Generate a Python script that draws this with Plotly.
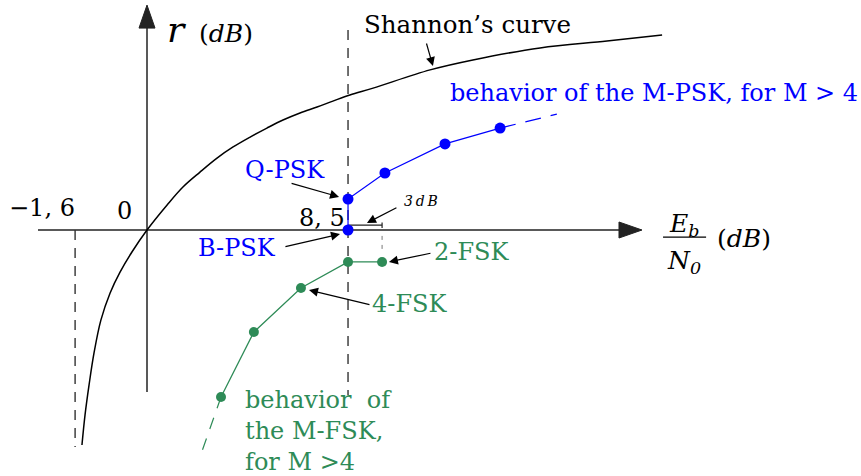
import plotly.graph_objects as go

# ---- data (diagram units: Eb/N0 in dB along x, r in dB along y) ----
shannon_x = [-2.75, -2.62, -2.45, -2.24, -1.95, -1.56, -1.14, -0.63, 0.0, 0.85, 1.52,
             2.24, 2.96, 3.64, 4.36, 5.07, 5.75, 6.47, 7.19, 7.86, 8.58, 9.56,
             11.97, 13.78, 16.62, 19.45, 21.78]
shannon_y = [-9.09, -7.82, -6.55, -5.20, -3.81, -2.66, -1.78, -0.92, 0.0, 1.06, 1.82,
             2.45, 3.04, 3.51, 3.93, 4.31, 4.65, 4.95, 5.20, 5.45, 5.71, 6.00,
             6.77, 7.19, 7.70, 7.99, 8.25]

psk_x = [8.5, 8.5, 10.06, 12.60, 14.93]          # B-PSK, Q-PSK, 8-PSK, ...
psk_y = [0.0, 1.31, 2.41, 3.64, 4.31]
psk_trend_x = [14.93, 17.33]
psk_trend_y = [4.31, 4.90]

fsk_x = [9.94, 8.5, 6.51, 4.52, 3.13]            # 2-FSK, ..., 4-FSK, ...
fsk_y = [-1.35, -1.35, -2.45, -4.31, -7.06]
fsk_trend_x = [3.13, 2.24]
fsk_trend_y = [-7.06, -9.60]

limit_x = -3.04          # position of the Shannon limit line
bpsk_x = 8.5             # B-PSK reference Eb/N0
tick_texts = ["\u22121, 6", "0", "8, 5"]

# ---- geometry of the canvas ----
W, H = 861, 476
S = 23.65                # pixels per diagram unit
X0, Y0 = 147, 230        # origin position on the canvas
x_range = [-X0 / S, (W - X0) / S]
y_range = [-(H - Y0) / S, Y0 / S]

BLUE = "#0000FF"
GREEN = "#2E8B57"
AXIS = "#222222"
DASHC = "#333333"
FONT = "DejaVu Serif"

fig = go.Figure()

def seg(x, y, color, width, dash="solid"):
    fig.add_trace(go.Scatter(x=x, y=y, mode="lines", hoverinfo="skip",
                             line=dict(color=color, width=width, dash=dash)))

def head(tip_x, tip_y, direction, length=23, half=8):
    L, h = length / S, half / S
    if direction == "right":
        xs = [tip_x, tip_x - L, tip_x - L, tip_x]
        ys = [tip_y, tip_y + h, tip_y - h, tip_y]
    else:
        xs = [tip_x, tip_x - h, tip_x + h, tip_x]
        ys = [tip_y, tip_y - L, tip_y - L, tip_y]
    fig.add_trace(go.Scatter(x=xs, y=ys, mode="lines", fill="toself",
                             fillcolor=AXIS, line=dict(color=AXIS, width=1),
                             hoverinfo="skip"))

# axes with arrow heads
x_axis_end, y_axis_end = 20.93, 9.51
seg([-4.61, x_axis_end - 22 / S], [0, 0], AXIS, 1.5)
head(x_axis_end, 0, "right")
seg([0, 0], [-6.85, y_axis_end - 22 / S], AXIS, 1.5)
head(0, y_axis_end, "up")

# Shannon limit and B-PSK reference lines
seg([limit_x, limit_x], [0, -9.18], DASHC, 1.4, "10px,8px")
seg([bpsk_x, bpsk_x], [8.46, -6.98], DASHC, 1.4, "10px,8px")

# 3 dB bracket
seg([bpsk_x, fsk_x[0]], [0.21, 0.21], AXIS, 1.2)
seg([fsk_x[0], fsk_x[0]], [0.32, 0.08], AXIS, 1.2)
seg([fsk_x[0], fsk_x[0]], [-0.25, -0.85], "#777777", 1, "4px,5px")

# Shannon's curve
fig.add_trace(go.Scatter(x=shannon_x, y=shannon_y, mode="lines", hoverinfo="skip",
                         line=dict(color="black", width=1.5, shape="spline", smoothing=1.0)))

# PSK family
seg(psk_trend_x, psk_trend_y, BLUE, 1.2, "16px,10px")
fig.add_trace(go.Scatter(x=psk_x, y=psk_y, mode="lines+markers", hoverinfo="skip",
                         line=dict(color=BLUE, width=1.2),
                         marker=dict(color=BLUE, size=11)))

# FSK family
seg(fsk_trend_x, fsk_trend_y, GREEN, 1.2, "12px,10px")
fig.add_trace(go.Scatter(x=fsk_x, y=fsk_y, mode="lines+markers", hoverinfo="skip",
                         line=dict(color=GREEN, width=1.3),
                         marker=dict(color=GREEN, size=10)))

ann = []

def text(x, y, s, size=24, color="black", xanchor="center", yanchor="middle", align="center"):
    ann.append(dict(x=x, y=y, xref="x", yref="y", text=s, showarrow=False,
                    xanchor=xanchor, yanchor=yanchor, align=align,
                    font=dict(family=FONT, size=size, color=color)))

def arrow(tail_x, tail_y, tip_x, tip_y):
    ann.append(dict(x=tip_x, y=tip_y, ax=tail_x, ay=tail_y, xref="x", yref="y",
                    axref="x", ayref="y", text="", showarrow=True, arrowhead=2,
                    arrowsize=1.5, arrowwidth=1.2, arrowcolor="black", standoff=0))

# axis titles
text(1.23, 8.46, "<i>r</i>", size=36)
text(3.36, 8.33, "(<i>dB</i>)", size=25)
text(22.70, 0.21, "<i>E<sub>b</sub></i>", size=25)
text(22.70, -1.35, "<i>N<sub>0</sub></i>", size=25)
text(25.24, -0.34, "(<i>dB</i>)", size=25)

# tick values
text(-4.44, 0.93, tick_texts[0], size=24)
text(-0.97, 0.80, tick_texts[1], size=24)
text(7.40, 0.51, tick_texts[2], size=24)

# labels
text(13.57, 8.70, "Shannon\u2019s curve", size=24.5)
arrow(11.80, 7.95, 12.09, 6.93)
text(21.44, 5.79, "behavior of the M-PSK, for M &gt; 4", size=24, color=BLUE)
text(5.83, 2.54, "Q-PSK", size=24, color=BLUE)
arrow(6.05, 1.99, 8.12, 1.40)
text(3.81, -0.76, "B-PSK", size=24, color=BLUE)
arrow(5.79, -0.72, 8.16, -0.17)
text(11.58, 1.23, "<i>3\u2009d\u2009B</i>", size=14)
arrow(10.61, 0.97, 9.30, 0.30)
text(13.70, -0.93, "2-FSK", size=24, color=GREEN)
arrow(12.05, -0.97, 10.23, -1.35)
text(11.12, -3.13, "4-FSK", size=24, color=GREEN)
arrow(9.47, -3.17, 6.85, -2.54)
text(4.05, -6.52, "behavior  of<br>the M-FSK,<br>for M &gt;4", size=24, color=GREEN,
     xanchor="left", yanchor="top", align="left")

fig.update_layout(
    width=W, height=H,
    margin=dict(l=0, r=0, t=0, b=0),
    paper_bgcolor="white", plot_bgcolor="white",
    showlegend=False,
    font=dict(family=FONT),
    xaxis=dict(range=x_range, visible=False, fixedrange=True),
    yaxis=dict(range=y_range, visible=False, fixedrange=True),
    annotations=ann,
    shapes=[dict(type="line", xref="x", yref="y", x0=21.82, x1=23.64, y0=-0.30, y1=-0.30,
                 line=dict(color="black", width=1.2))],
)

fig.write_html("out.html")
